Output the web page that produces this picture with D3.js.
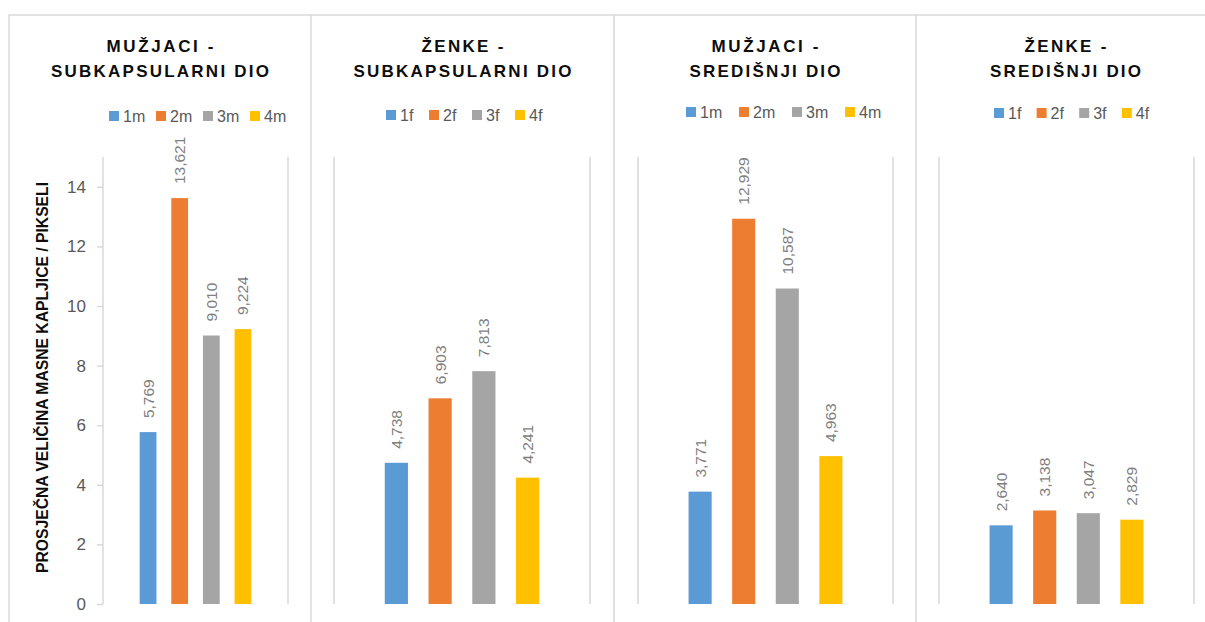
<!DOCTYPE html>
<html>
<head>
<meta charset="utf-8">
<script src="https://cdn.jsdelivr.net/npm/d3@7"></script>
<style>
  body { margin: 0; background: #fff; }
  svg text { font-family: "Liberation Sans", Arial, sans-serif; }
</style>
</head>
<body>
<svg id="chart" width="1205" height="622"></svg>
<script>
// data
var maleLabels = ["1m", "2m", "3m", "4m"];
var femaleLabels = ["1f", "2f", "3f", "4f"];
var muzjaciSubkapsularni = [5.769, 13.621, 9.010, 9.224];
var zenkeSubkapsularni = [4.738, 6.903, 7.813, 4.241];
var muzjaciSredisnji = [3.771, 12.929, 10.587, 4.963];
var zenkeSredisnji = [2.640, 3.138, 3.047, 2.829];
var titles = [
    ["MUŽJACI -", "SUBKAPSULARNI DIO"],
    ["ŽENKE -", "SUBKAPSULARNI DIO"],
    ["MUŽJACI -", "SREDIŠNJI DIO"],
    ["ŽENKE -", "SREDIŠNJI DIO"]
];
var yTicks = [0, 2, 4, 6, 8, 10, 12, 14];
var yTitle = "PROSJEČNA VELIČINA MASNE KAPLJICE / PIKSELI";

var colors = ["#5B9BD5", "#ED7D31", "#A5A5A5", "#FFC000"];
var lineColor = "#d9d9d9";

// layout of the four panels (box, plot area, legend placement)
var panels = [
    { x0: 9,   x1: 311,  px0: 103, px1: 288,  legX: 109, legStep: 47, legY: 116, values: muzjaciSubkapsularni, cats: maleLabels, titleW: [107, 218] },
    { x0: 311, x1: 614,  px0: 334, px1: 590,  legX: 386, legStep: 43, legY: 115, values: zenkeSubkapsularni,   cats: femaleLabels, titleW: [82, 218] },
    { x0: 614, x1: 916,  px0: 638, px1: 893,  legX: 686, legStep: 53, legY: 112, values: muzjaciSredisnji,     cats: maleLabels, titleW: [107, 151] },
    { x0: 916, x1: 1215, px0: 939, px1: 1194, legX: 994, legStep: 42.6, legY: 113, values: zenkeSredisnji,     cats: femaleLabels, titleW: [82, 151] }
];

var plotTop = 157, plotBottom = 604;
var y = d3.scaleLinear().domain([0, 15]).range([plotBottom, plotTop]);

var locale = d3.formatLocale({ decimal: ",", thousands: ".", grouping: [3], currency: ["", ""] });
var fmt = locale.format(".3f");

var svg = d3.select("#chart");

// outer frame: top line, left line and the dividers between panels
svg.append("line")
    .attr("x1", 9).attr("x2", 1205).attr("y1", 15).attr("y2", 15)
    .attr("stroke", lineColor).attr("stroke-width", 1.5);
panels.forEach(function (p) {
    svg.append("line")
        .attr("x1", p.x0).attr("x2", p.x0).attr("y1", 15).attr("y2", 622)
        .attr("stroke", lineColor).attr("stroke-width", 1.5);
});

panels.forEach(function (p, i) {
    var g = svg.append("g");
    var cx = (p.x0 + p.x1) / 2;

    // title, two lines, letter spaced
    titles[i].forEach(function (t, k) {
        g.append("text")
            .attr("x", cx).attr("y", 52 + k * 25)
            .attr("text-anchor", "middle")
            .attr("font-size", "17px").attr("font-weight", "bold")
            .attr("fill", "#0d0d0d")
            .attr("textLength", p.titleW[k]).attr("lengthAdjust", "spacing")
            .text(t);
    });

    // legend
    var leg = g.selectAll(".leg").data(p.cats).join("g")
        .attr("class", "leg")
        .attr("transform", function (d, j) { return "translate(" + (p.legX + j * p.legStep) + "," + p.legY + ")"; });
    leg.append("rect")
        .attr("x", 0).attr("y", -5).attr("width", 10).attr("height", 10)
        .attr("fill", function (d, j) { return colors[j]; });
    leg.append("text")
        .attr("x", 14).attr("y", 0).attr("dy", "0.35em")
        .attr("font-size", "16px").attr("fill", "#595959")
        .text(function (d) { return d; });

    // plot edge lines
    [p.px0, p.px1].forEach(function (xx) {
        g.append("line")
            .attr("x1", xx).attr("x2", xx).attr("y1", plotTop).attr("y2", plotBottom)
            .attr("stroke", lineColor).attr("stroke-width", 1.5);
    });

    var x = d3.scaleBand().domain(p.cats).range([p.px0, p.px1])
        .paddingInner(0.47).paddingOuter(1.16);

    g.selectAll(".bar").data(p.values).join("rect")
        .attr("class", "bar")
        .attr("x", function (d, j) { return x(p.cats[j]); })
        .attr("width", x.bandwidth())
        .attr("y", function (d) { return y(d); })
        .attr("height", function (d) { return y(0) - y(d); })
        .attr("fill", function (d, j) { return colors[j]; });

    g.selectAll(".lbl").data(p.values).join("text")
        .attr("class", "lbl")
        .attr("transform", function (d, j) {
            return "translate(" + (x(p.cats[j]) + x.bandwidth() / 2) + "," + (y(d) - 14) + ") rotate(-90)";
        })
        .attr("text-anchor", "start").attr("dy", "0.35em")
        .attr("font-size", "15.5px").attr("fill", "#7f7f7f")
        .text(function (d) { return fmt(d); });

    // y axis only on the first panel
    if (i === 0) {
        var axis = d3.axisLeft(y).tickValues(yTicks).tickSize(6).tickPadding(11)
            .tickFormat(d3.format("d"));
        var ag = g.append("g").attr("transform", "translate(" + p.px0 + ",0)").call(axis);
        ag.select(".domain").remove();
        ag.selectAll(".tick line").attr("stroke", lineColor).attr("stroke-width", 1.5);
        ag.selectAll(".tick text")
            .attr("font-family", "Liberation Sans, Arial, sans-serif")
            .attr("font-size", "17px").attr("fill", "#595959");

        g.append("text")
            .attr("transform", "translate(42,377.5) rotate(-90)")
            .attr("text-anchor", "middle").attr("dy", "0.35em")
            .attr("font-size", "17px").attr("font-weight", "bold")
            .attr("fill", "#0d0d0d")
            .attr("textLength", 391).attr("lengthAdjust", "spacingAndGlyphs")
            .text(yTitle);
    }
});
</script>
</body>
</html>
